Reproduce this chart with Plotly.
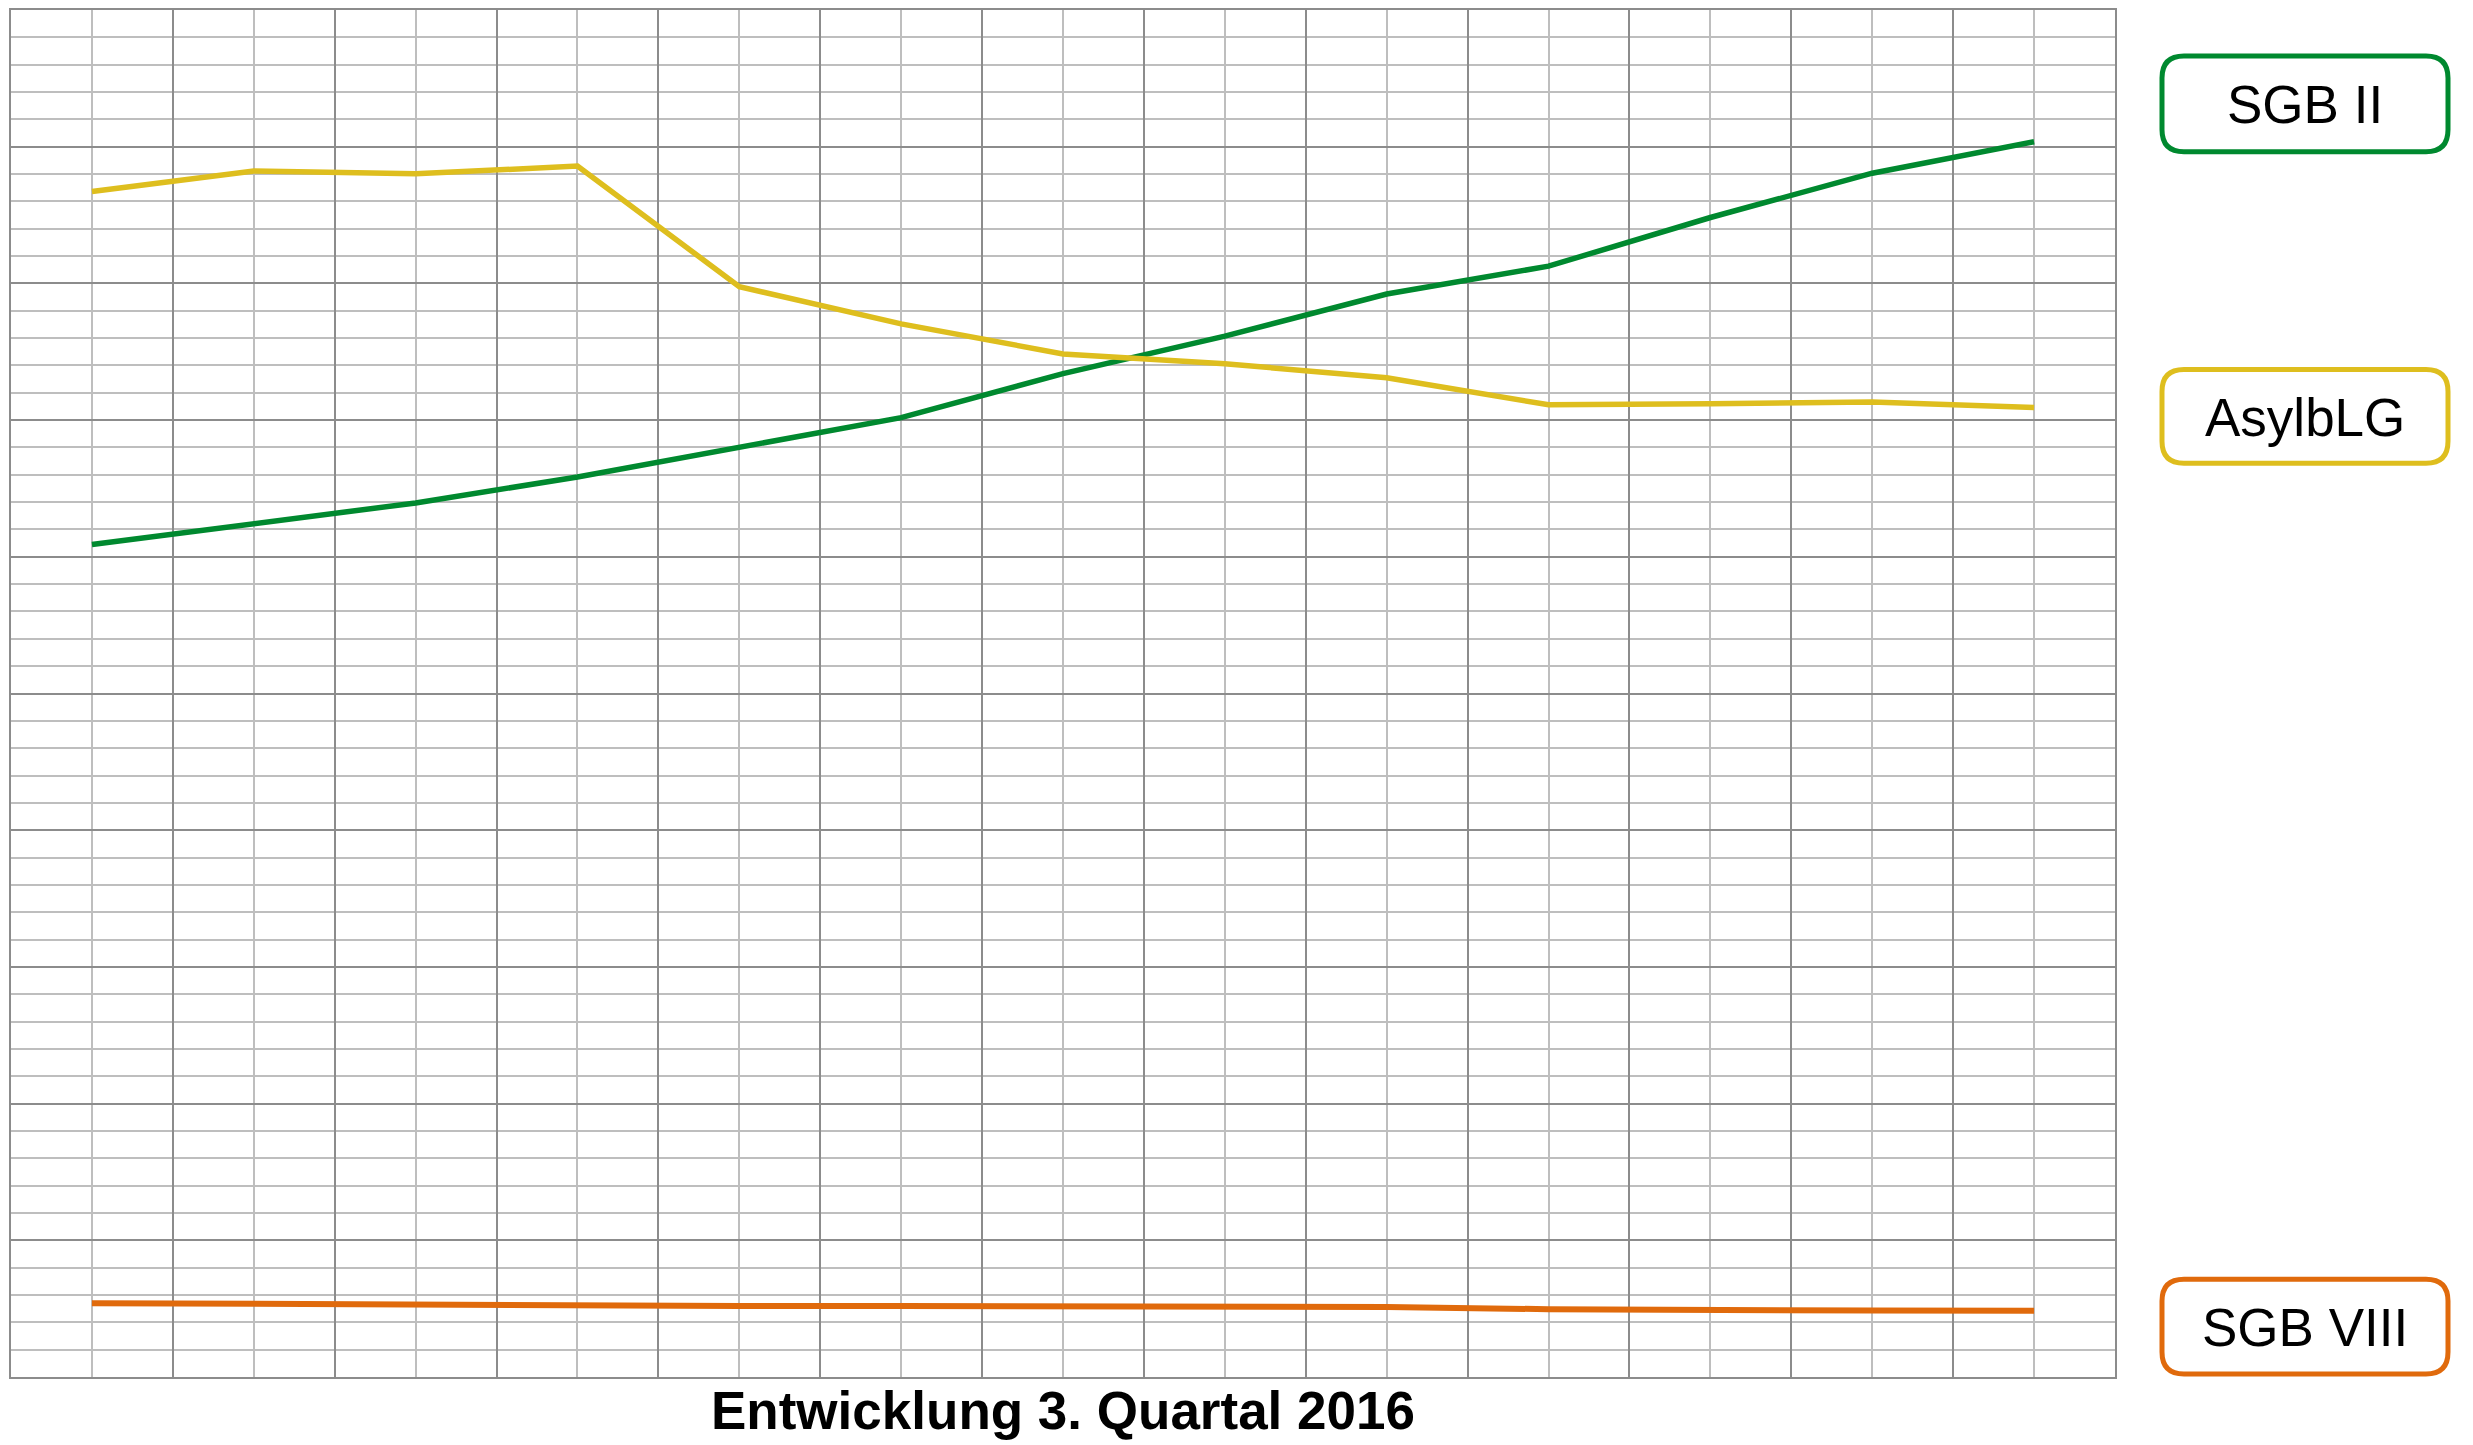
import plotly.graph_objects as go

# ---- data (y axis has no labels, 0..50 arbitrary units) ----
periods = list(range(13))
sgb2 = [30.45, 31.22, 31.97, 32.92, 34.01, 35.09, 36.70, 38.07, 39.61, 40.63, 42.41, 44.03, 45.18]
asylblg = [43.36, 44.11, 44.01, 44.29, 39.88, 38.52, 37.42, 37.06, 36.55, 35.56, 35.60, 35.66, 35.46]
sgb8 = [2.70, 2.67, 2.63, 2.60, 2.60, 2.60, 2.60, 2.60, 2.56, 2.48, 2.48, 2.43, 2.42]
series_names = ["SGB II", "AsylbLG", "SGB VIII"]
title_text = "Entwicklung 3. Quartal 2016"

GREEN = "#00892F"
YELLOW = "#DEBE1E"
ORANGE = "#E06A0C"
MAJOR = "#8C8C8C"
MINOR = "#BEBEBE"

OFF = 8  # default page body margin
W, H = 2473 - OFF, 1445 - OFF
L, R, T, B = 11 - OFF, 2115 - OFF, 8 - OFF, 1377 - OFF  # plot area in figure pixels

fig = go.Figure()
fig.add_trace(go.Scatter(x=periods, y=sgb8, mode="lines", name=series_names[2],
                         line=dict(color=ORANGE, width=6)))
fig.add_trace(go.Scatter(x=periods, y=sgb2, mode="lines", name=series_names[0],
                         line=dict(color=GREEN, width=5.5)))
fig.add_trace(go.Scatter(x=periods, y=asylblg, mode="lines", name=series_names[1],
                         line=dict(color=YELLOW, width=5.5)))


def px2paper(px, py):
    # px, py given in page pixels
    px -= OFF
    py -= OFF
    return (px - L) / (R - L), (B - py) / (B - T)


def rounded_box(x0, y0, x1, y1, r):
    def P(x, y):
        a, b = px2paper(x, y)
        return f"{a:.6f},{b:.6f}"
    return (f"M {P(x0 + r, y0)} L {P(x1 - r, y0)} Q {P(x1, y0)} {P(x1, y0 + r)} "
            f"L {P(x1, y1 - r)} Q {P(x1, y1)} {P(x1 - r, y1)} "
            f"L {P(x0 + r, y1)} Q {P(x0, y1)} {P(x0, y1 - r)} "
            f"L {P(x0, y0 + r)} Q {P(x0, y0)} {P(x0 + r, y0)} Z")


boxes = [
    (series_names[0], GREEN, 54, 150),
    (series_names[1], YELLOW, 368, 462),
    (series_names[2], ORANGE, 1279, 1374),
]
shapes = []
annotations = []
for name, col, y0, y1 in boxes:
    shapes.append(dict(type="path", path=rounded_box(2162, y0, 2448, y1, 22),
                       xref="paper", yref="paper", line=dict(color=col, width=5),
                       fillcolor="white", layer="above"))
    cx, cy = px2paper((2162 + 2448) / 2, (y0 + y1) / 2 + 1)
    annotations.append(dict(text=name, x=cx, y=cy, xref="paper", yref="paper",
                            xanchor="center", yanchor="middle", showarrow=False,
                            font=dict(family="Liberation Sans, Arial, sans-serif", size=53, color="black")))

tx, ty = px2paper((11 + 2115) / 2, 1411)
annotations.append(dict(text=f"<b>{title_text}</b>", x=tx, y=ty, xref="paper", yref="paper",
                        xanchor="center", yanchor="middle", showarrow=False,
                        font=dict(family="Liberation Sans Narrow, Liberation Sans, Arial, sans-serif",
                                  size=53, color="black")))

fig.update_layout(
    width=W, height=H,
    margin=dict(l=L, r=W - R, t=T, b=H - B, pad=0),
    paper_bgcolor="white", plot_bgcolor="white",
    showlegend=False,
    shapes=shapes, annotations=annotations,
    xaxis=dict(range=[-0.5, 12.5], tick0=-0.5, dtick=1, showticklabels=False, ticks="",
               showgrid=True, gridcolor=MAJOR, gridwidth=1.8, zeroline=False,
               showline=True, linecolor=MAJOR, linewidth=2, mirror=True,
               minor=dict(tick0=0, dtick=1, showgrid=True, gridcolor=MINOR, gridwidth=1.8, ticks="")),
    yaxis=dict(range=[0, 50], tick0=0, dtick=5, showticklabels=False, ticks="",
               showgrid=True, gridcolor=MAJOR, gridwidth=1.8, zeroline=False,
               showline=True, linecolor=MAJOR, linewidth=2, mirror=True,
               minor=dict(tick0=0, dtick=1, showgrid=True, gridcolor=MINOR, gridwidth=1.8, ticks="")),
)

fig.write_html("out.html")
